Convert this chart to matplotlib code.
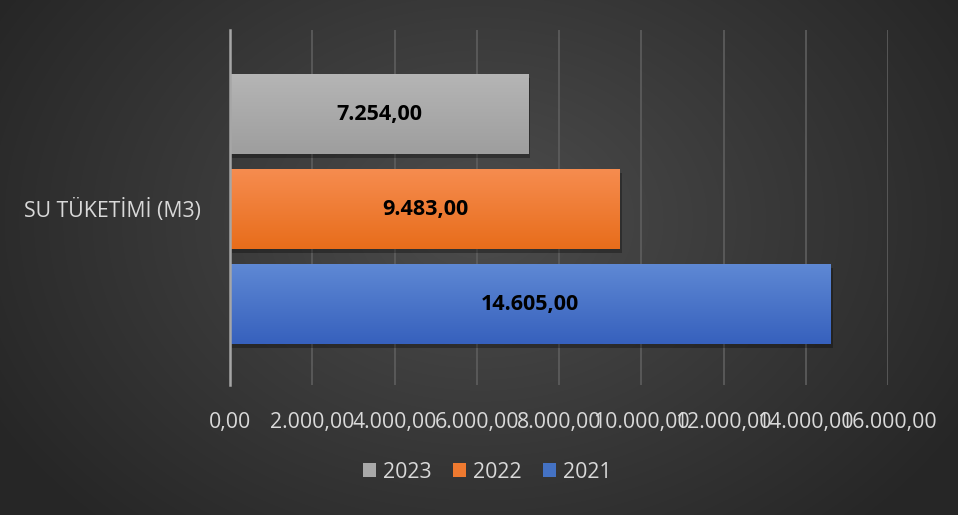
import numpy as np
import matplotlib
matplotlib.use("Agg")
import matplotlib.pyplot as plt
from matplotlib.patches import Patch

categories = ["SU TÜKETİMİ (M3)"]
years = ["2023", "2022", "2021"]
values = [7254.00, 9483.00, 14605.00]
colors_top = ["#b5b5b5", "#f68c4f", "#5e88d4"]
colors_bot = ["#9e9e9e", "#e86d1b", "#3761bd"]
legend_colors = ["#a9a9a9", "#ef7a30", "#4472c4"]
xticks = [0, 2000, 4000, 6000, 8000, 10000, 12000, 14000, 16000]

def tr(v):
    s = f"{v:,.2f}"
    return s.replace(",", "X").replace(".", ",").replace("X", ".")

W, H = 958, 515
fig = plt.figure(figsize=(W / 100, H / 100), dpi=100)

# radial gradient background
bg = fig.add_axes([0, 0, 1, 1])
yy, xx = np.mgrid[0:H, 0:W]
r = np.sqrt(((xx - 480) / 560.0) ** 2 + ((yy - 220) / 420.0) ** 2)
r = np.clip(r, 0, 1)
c = 0.30 - 0.15 * r
bg.imshow(np.dstack([c, c, c]), extent=[0, 1, 0, 1], aspect="auto", zorder=0)
bg.set_axis_off()

ax = fig.add_axes([230 / W, 1 - 385 / H, (888 - 230) / W, (385 - 30) / H])
ax.set_facecolor("none")
ax.patch.set_alpha(0)

bar_h = 0.225
step = 0.268
offsets = [step, 0, -step]
font = ["Open Sans", "DejaVu Sans"]
for i, (yr, v) in enumerate(zip(years, values)):
    y = -0.005 + offsets[i]
    bars = ax.barh([y], [v], height=bar_h, color=legend_colors[i], zorder=3)
    b = bars[0]
    # shadow
    ax.barh([y - 0.010], [v], left=[50], height=bar_h, color="black", alpha=0.3, zorder=2)
    # gradient
    grad = np.linspace(0, 1, 50).reshape(-1, 1)
    ct = np.array(matplotlib.colors.to_rgb(colors_top[i]))
    cb = np.array(matplotlib.colors.to_rgb(colors_bot[i]))
    img = ct[None, None, :] * (1 - grad[..., None]) + cb[None, None, :] * grad[..., None]
    im = ax.imshow(img, extent=[b.get_x(), b.get_x() + b.get_width(), b.get_y(), b.get_y() + b.get_height()],
                   aspect="auto", zorder=4, origin="upper")
    im.set_clip_path(b)
    ax.text(v / 2, y, tr(v), ha="center", va="center", fontsize=15.5, fontweight="bold",
            color="black", family=font, zorder=5)

ax.set_xlim(0, 16000)
ax.set_ylim(-0.5, 0.5)
ax.set_xticks(xticks)
ax.set_xticklabels([tr(t) for t in xticks], fontsize=15.3, color="#d9d9d9", family=font)
ax.set_yticks([0.0])
ax.set_yticklabels(categories, fontsize=15.3, color="#d9d9d9", family=font)
ax.tick_params(length=0)
ax.tick_params(axis="y", pad=21)
ax.tick_params(axis="x", pad=19.5)
ax.grid(axis="x", color="#5e5e5e", linewidth=1.2, zorder=1)
for s in ["top", "right", "bottom"]:
    ax.spines[s].set_visible(False)
ax.spines["left"].set_color("#a6a6a6")
ax.spines["left"].set_linewidth(1.8)
ax.spines["left"].set_zorder(6)

handles = [Patch(facecolor=legend_colors[i], label=years[i]) for i in range(3)]
leg = fig.legend(handles=handles, loc="center", bbox_to_anchor=(487 / W, 1 - 472 / H), ncol=3,
                 frameon=False, handlelength=0.65, handleheight=0.65, handletextpad=0.3,
                 columnspacing=1.0, prop={"family": font, "size": 15.3})
for t in leg.get_texts():
    t.set_color("#d9d9d9")

fig.savefig("out.png", dpi=100)
